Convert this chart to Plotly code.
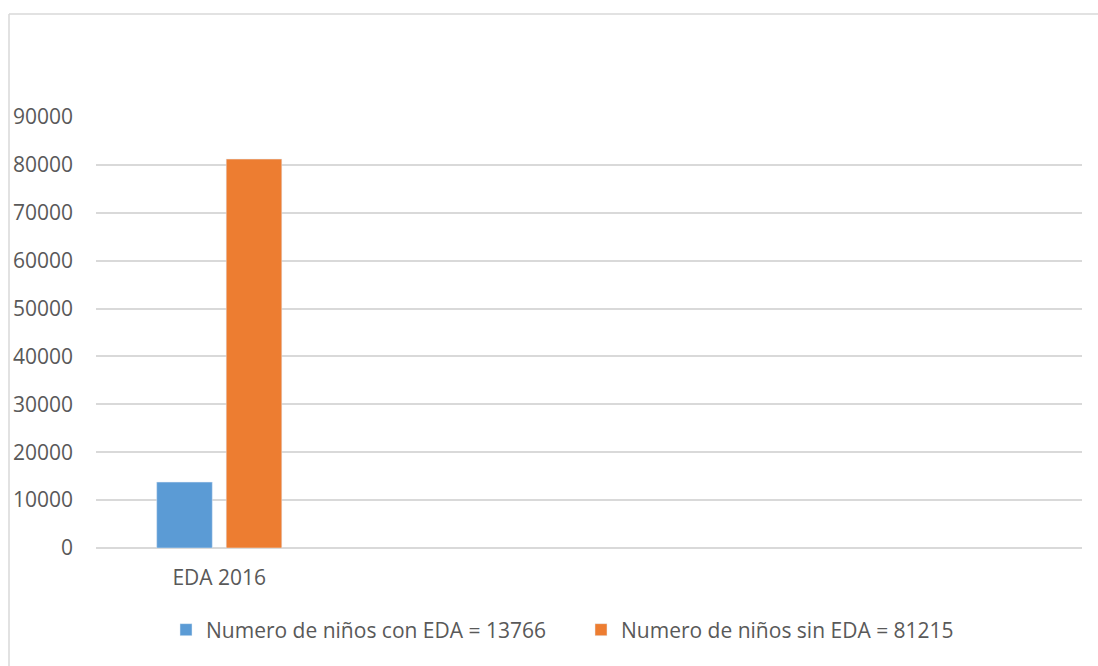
import plotly.graph_objects as go

categories = ["EDA 2016", " ", "  ", "   "]
series_names = ["Numero de niños con EDA = 13766", "Numero de niños sin EDA = 81215"]
con_eda = [13766, None, None, None]
sin_eda = [81215, None, None, None]
y_ticks = [0, 10000, 20000, 30000, 40000, 50000, 60000, 70000, 80000, 90000]

W, H = 1098, 666
# plot area in screen pixels
SL, SR, ST, SB = 96, 1082, 117, 548
L, T = SL, ST
R, B = W - SR, H - SB
pw, ph = W - L - R, H - T - B

def px_x(x):
    return (x - L) / pw

def px_y(y):
    return (H - B - y) / ph

font = "Open Sans"
txt = "#595959"
fs = 21
border = dict(color="#d9d9d9", width=1.5)

fig = go.Figure()
fig.add_trace(go.Bar(x=categories, y=con_eda, name=series_names[0], marker_color="#5B9BD5"))
fig.add_trace(go.Bar(x=categories, y=sin_eda, name=series_names[1], marker_color="#ED7D31"))

fig.update_layout(
    width=W, height=H,
    margin=dict(l=L, r=R, t=T, b=B, autoexpand=False),
    paper_bgcolor="white", plot_bgcolor="white",
    barmode="group", bargap=0.436, bargroupgap=0.2,
    font=dict(family=font, size=fs, color=txt),
    xaxis=dict(type="category", showgrid=False, showline=False, ticks="",
               ticklabelstandoff=15,
               tickfont=dict(size=fs, color=txt), fixedrange=True),
    yaxis=dict(range=[0, 90000], tickvals=y_ticks, ticktext=[str(v) for v in y_ticks],
               showgrid=True, gridcolor="#d9d9d9", gridwidth=1.5,
               zeroline=True, zerolinecolor="#d9d9d9", zerolinewidth=1.5,
               showline=False, ticks="", ticklabelstandoff=22,
               tickfont=dict(size=fs, color=txt)),
    legend=dict(orientation="h", x=px_x(166), xanchor="left", y=px_y(630), yanchor="middle",
                font=dict(size=fs, color=txt), entrywidth=370, entrywidthmode="pixels",
                itemwidth=30, bgcolor="rgba(0,0,0,0)"),
    showlegend=True,
    shapes=[
        dict(type="line", xref="paper", yref="paper",
             x0=px_x(9), x1=px_x(1110), y0=px_y(14), y1=px_y(14), line=border, layer="below"),
        dict(type="line", xref="paper", yref="paper",
             x0=px_x(9), x1=px_x(9), y0=px_y(14), y1=px_y(680), line=border, layer="below"),
    ],
)

fig.write_html("out.html", config={"displayModeBar": False},
               post_script="document.body.style.margin='0';document.body.style.overflow='hidden';")
